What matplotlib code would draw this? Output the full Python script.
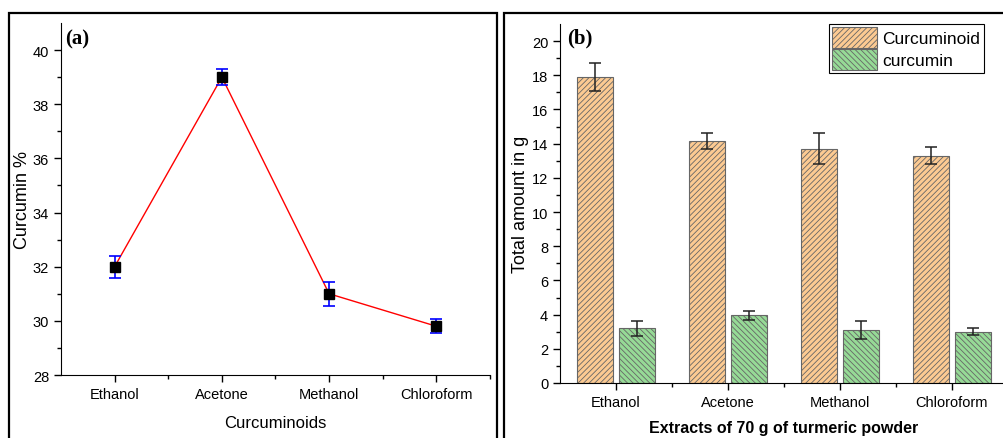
import numpy as np
import matplotlib.pyplot as plt
from matplotlib.patches import Rectangle

# data
solvents = ['Ethanol', 'Acetone', 'Methanol', 'Chloroform']
curcumin_pct = [32.0, 39.0, 31.0, 29.8]
curcumin_pct_err = [0.4, 0.3, 0.45, 0.25]

curcuminoid_g = [17.9, 14.15, 13.7, 13.3]
curcuminoid_err = [0.8, 0.45, 0.9, 0.5]
curcumin_g = [3.2, 3.95, 3.1, 3.0]
curcumin_err = [0.45, 0.25, 0.5, 0.2]

plt.rcParams['font.family'] = ['Liberation Sans', 'DejaVu Sans']
plt.rcParams['hatch.linewidth'] = 0.6
plt.rcParams['hatch.color'] = '#444444'

fig = plt.figure(figsize=(10.04, 4.39), dpi=100)
W, H = 1004, 439

# panel frames
for x0, x1 in [(9, 497), (504, 1012)]:
    fig.patches.append(Rectangle((x0 / W, 0 - 0.05), (x1 - x0) / W, 1 - 14 / H + 0.05,
                                 transform=fig.transFigure, fill=False,
                                 edgecolor='black', linewidth=1.6))

# (a)
ax1 = fig.add_axes([61 / W, 1 - 376 / H, 429 / W, 352 / H])
x = np.arange(1, len(solvents) + 1)
ax1.plot(x, curcumin_pct, color='red', linewidth=1.0, zorder=2)
ax1.errorbar(x, curcumin_pct, yerr=curcumin_pct_err, fmt='none', ecolor='blue',
             elinewidth=1.2, capsize=4, capthick=1.2, zorder=3)
ax1.plot(x, curcumin_pct, 's', color='black', markersize=6.5, zorder=4)
ax1.set_xlim(0.5, 4.5)
ax1.set_ylim(28, 41)
ax1.set_yticks(np.arange(28, 41, 2))
ax1.set_yticks(np.arange(29, 41, 2), minor=True)
ax1.set_xticks(x)
ax1.set_xticks([1.5, 2.5, 3.5, 4.5], minor=True)
ax1.set_xticklabels(solvents)
ax1.spines['top'].set_visible(False)
ax1.spines['right'].set_visible(False)
ax1.tick_params(labelsize=10.5, length=5, width=1)
ax1.tick_params(which='minor', length=3, width=1)
ax1.set_ylabel('Curcumin %', fontsize=13, labelpad=1)
ax1.set_xlabel('Curcuminoids', fontsize=12, labelpad=10)
ax1.text(0.01, 0.985, '(a)', transform=ax1.transAxes, fontsize=15, fontweight='bold',
         family='Liberation Serif', va='top', ha='left')

# (b)
ax2 = fig.add_axes([560 / W, 1 - 384 / H, 448 / W, 359 / H])
w = 0.32
ax2.bar(x - 0.19, curcuminoid_g, w, yerr=curcuminoid_err, color='#fcca92',
        edgecolor='#666666', linewidth=0.8, hatch='//////', label='Curcuminoid',
        error_kw=dict(ecolor='#222222', elinewidth=1.1, capsize=4, capthick=1.1))
ax2.bar(x + 0.19, curcumin_g, w, yerr=curcumin_err, color='#96da96',
        edgecolor='#666666', linewidth=0.8, hatch='\\\\\\\\\\\\', label='curcumin',
        error_kw=dict(ecolor='#222222', elinewidth=1.1, capsize=4, capthick=1.1))
ax2.set_xlim(0.5, 4.5)
ax2.set_ylim(0, 21)
ax2.set_yticks(np.arange(0, 21, 2))
ax2.set_yticks(np.arange(1, 21, 2), minor=True)
ax2.set_xticks(x)
ax2.set_xticks([1.5, 2.5, 3.5], minor=True)
ax2.set_xticklabels(solvents)
ax2.spines['top'].set_visible(False)
ax2.spines['right'].set_visible(False)
ax2.tick_params(labelsize=10.5, length=5, width=1)
ax2.tick_params(which='minor', length=3, width=1)
ax2.set_ylabel('Total amount in g', fontsize=13, labelpad=2)
ax2.set_xlabel('Extracts of 70 g of turmeric powder', fontsize=11.5, fontweight='bold',
               labelpad=8)
ax2.text(0.015, 0.99, '(b)', transform=ax2.transAxes, fontsize=15, fontweight='bold',
         family='Liberation Serif', va='top', ha='left')
leg = ax2.legend(loc='upper right', bbox_to_anchor=(0.95, 1.005), fontsize=12.5,
                 fancybox=False, edgecolor='black', framealpha=1,
                 handlelength=2.6, handleheight=1.45, borderpad=0.2,
                 labelspacing=0.05, handletextpad=0.3, borderaxespad=0.1)
leg.get_frame().set_linewidth(0.8)

fig.savefig('out.png', dpi=100)
